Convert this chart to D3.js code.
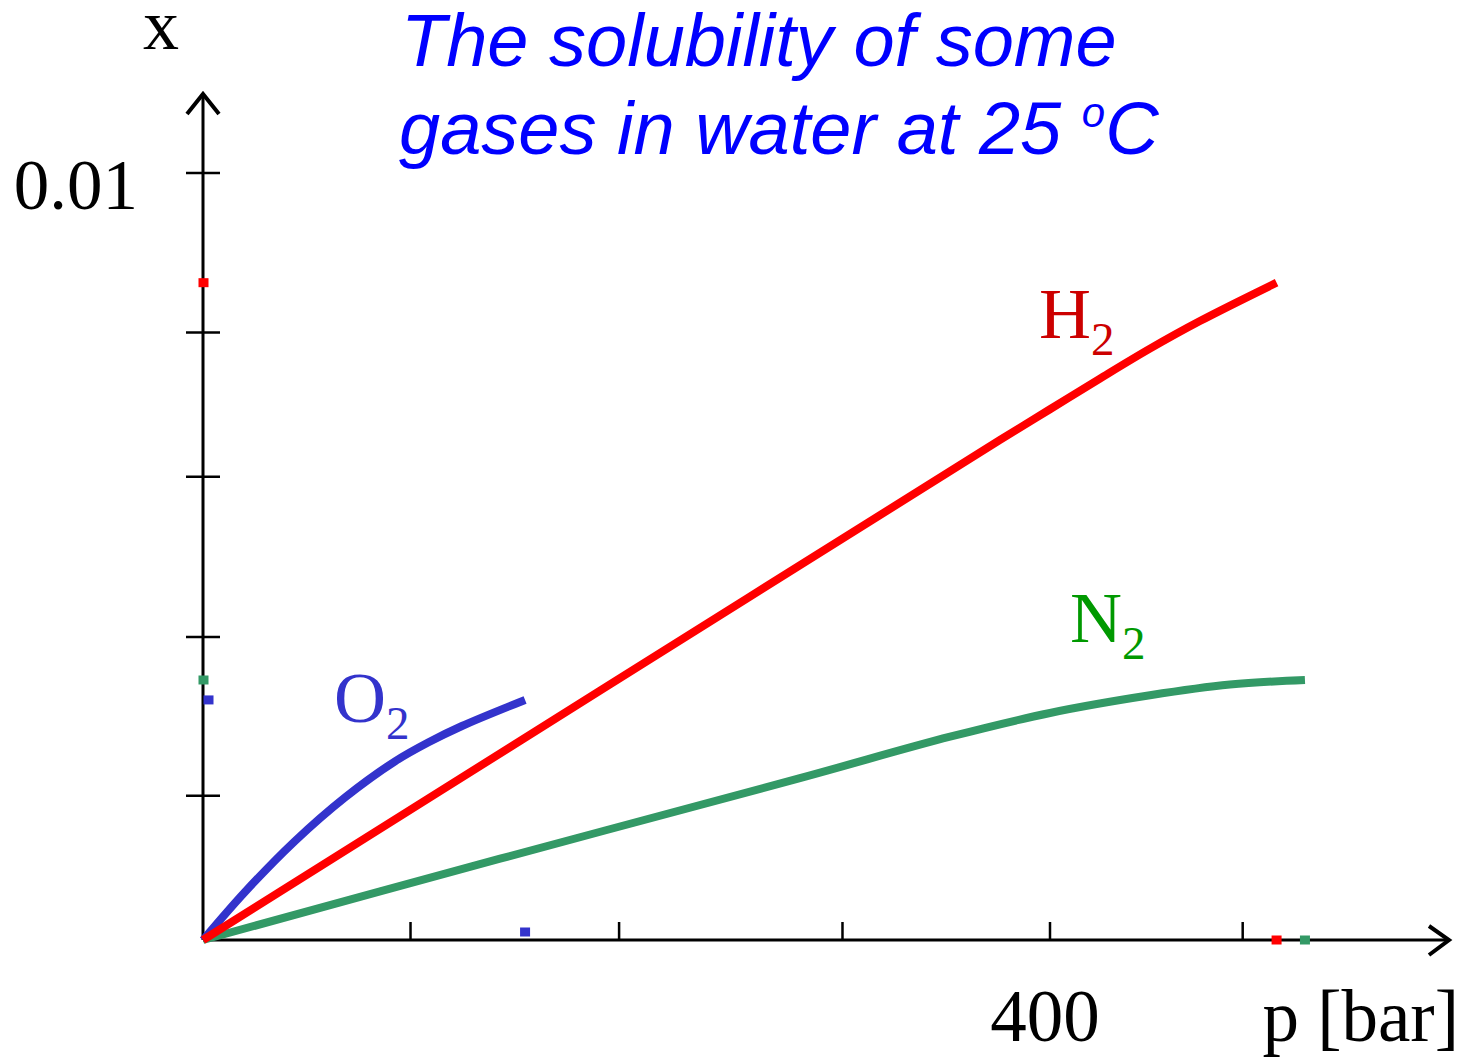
<!DOCTYPE html>
<html>
<head>
<meta charset="utf-8">
<script src="https://cdn.jsdelivr.net/npm/d3@7"></script>
<style>
  html, body { margin: 0; padding: 0; background: #fff; }
  svg { display: block; }
</style>
</head>
<body>
<svg id="chart" width="1468" height="1059"></svg>
<script>
// ---- data ----
const titleLines = ["The solubility of some", "gases in water at 25 "];
const xTickValues = [98, 196.5, 302, 400, 491];          // p [bar]
const xTickLabelValues = [400];
const xTickLabelTexts = ["400"];
const yTickValues = [0.00188, 0.00395, 0.00604, 0.00792, 0.01]; // mole fraction x
const yTickLabelValues = [0.01];
const yTickLabelTexts = ["0.01"];

const seriesNames = ["N2", "O2", "H2"];
const h2P = [0, 187.5, 376.4, 400, 423.6, 447.2, 470.8, 507];
const h2X = [0, 0.00325, 0.00652, 0.00692, 0.00732, 0.00771, 0.00807, 0.00857];
const n2P = [0, 140.3, 281.9, 352.8, 400, 447.2, 485, 520.4];
const n2X = [0, 0.00106, 0.00211, 0.00265, 0.00296, 0.00319, 0.00333, 0.00339];
const o2P = [0, 19.8, 43.4, 67.1, 90.7, 106.3, 122.3, 152.1];
const o2X = [0, 0.000626, 0.00129, 0.00186, 0.00233, 0.002575, 0.00279, 0.00313];

// ---- layout ----
const svg = d3.select("#chart");
const x = d3.scaleLinear().domain([0, 400]).range([203, 1050]);
const y = d3.scaleLinear().domain([0, 0.01]).range([940, 173]);
const xAxisEnd = 1447, yAxisTop = 97;

const serif = "'Liberation Serif', 'Times New Roman', serif";
const sans = "'Liberation Sans', Arial, sans-serif";

// title
const title = svg.append("text")
  .attr("font-family", sans).attr("font-style", "italic")
  .attr("font-size", 74).attr("fill", "#0000ff");
title.append("tspan").attr("x", 401).attr("y", 66).text(titleLines[0]);
title.append("tspan").attr("x", 399).attr("y", 154).text(titleLines[1]);
title.append("tspan").attr("font-size", 42).attr("dy", -27).text("o");
title.append("tspan").attr("dy", 27).text("C");

// axes
const axes = svg.append("g").attr("stroke", "#000").attr("fill", "none");
axes.append("line").attr("x1", x(0)).attr("x2", xAxisEnd)
  .attr("y1", y(0)).attr("y2", y(0)).attr("stroke-width", 3);
axes.append("line").attr("x1", x(0)).attr("x2", x(0))
  .attr("y1", y(0)).attr("y2", yAxisTop).attr("stroke-width", 3);
// arrows
axes.append("path").attr("d", `M${xAxisEnd - 18},926 L${xAxisEnd + 2},${y(0)} L${xAxisEnd - 18},955`)
  .attr("stroke-width", 4);
axes.append("path").attr("d", `M187,${yAxisTop + 17} L${x(0)},${yAxisTop - 3} L219,${yAxisTop + 17}`)
  .attr("stroke-width", 4);
// ticks
axes.selectAll(".xt").data(xTickValues).join("line")
  .attr("x1", d => x(d)).attr("x2", d => x(d))
  .attr("y1", y(0) - 18).attr("y2", y(0)).attr("stroke-width", 2.5);
axes.selectAll(".yt").data(yTickValues).join("line")
  .attr("x1", x(0) - 17).attr("x2", x(0) + 17)
  .attr("y1", d => y(d)).attr("y2", d => y(d)).attr("stroke-width", 2.5);

// tick labels
svg.selectAll(".xl").data(xTickLabelValues).join("text")
  .attr("x", d => x(d) - 5).attr("y", 1041)
  .attr("text-anchor", "middle").attr("font-family", serif).attr("font-size", 73)
  .text((d, i) => xTickLabelTexts[i]);
svg.selectAll(".yl").data(yTickLabelValues).join("text")
  .attr("x", 138).attr("y", d => y(d) + 36)
  .attr("text-anchor", "end").attr("font-family", serif).attr("font-size", 71)
  .text((d, i) => yTickLabelTexts[i]);

// axis titles
svg.append("text").attr("x", 1459).attr("y", 1041).attr("text-anchor", "end")
  .attr("font-family", serif).attr("font-size", 73).text("p [bar]");
svg.append("text").attr("x", 161).attr("y", 49).attr("text-anchor", "middle")
  .attr("font-family", serif).attr("font-size", 72).text("x");

// lines
const series = [
  { name: "N2", p: n2P, v: n2X, color: "#339966", label: "#009900", lx: 1070, ly: 642, mxOff: 0, myOff: 0 },
  { name: "O2", p: o2P, v: o2X, color: "#3333cc", label: "#3333cc", lx: 334, ly: 722, mxOff: 5, myOff: -8 },
  { name: "H2", p: h2P, v: h2X, color: "#ff0000", label: "#cc0000", lx: 1039, ly: 338, mxOff: 0, myOff: 0 }
];
const line = d3.line().x(d => x(d[0])).y(d => y(d[1])).curve(d3.curveCatmullRom.alpha(0.5));
series.forEach(s => {
  const pts = s.p.map((p, i) => [p, s.v[i]]);
  svg.append("path").datum(pts).attr("d", line)
    .attr("fill", "none").attr("stroke", s.color).attr("stroke-width", 8);
  const last = pts[pts.length - 1];
  // end-point projections on the axes
  svg.append("rect").attr("x", x(0) - 4.5 + s.mxOff).attr("y", y(last[1]) - 4.5)
    .attr("width", 10).attr("height", 9).attr("fill", s.color);
  svg.append("rect").attr("x", x(last[0]) - 5).attr("y", y(0) - 4.5 + s.myOff)
    .attr("width", 10).attr("height", 9).attr("fill", s.color);
  // labels
  const t = svg.append("text").attr("x", s.lx).attr("y", s.ly)
    .attr("font-family", serif).attr("font-size", 72).attr("fill", s.label);
  t.append("tspan").text(s.name[0]);
  t.append("tspan").attr("font-size", 47).attr("dy", 17).text(s.name[1]);
});
</script>
</body>
</html>
